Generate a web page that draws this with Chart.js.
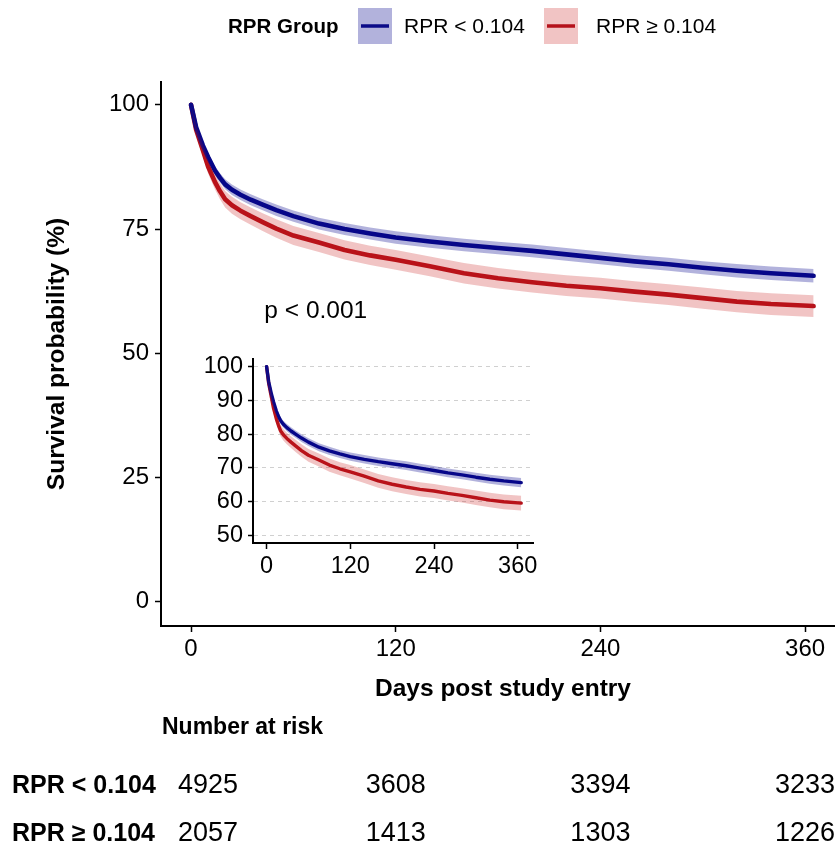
<!DOCTYPE html>
<html>
<head>
<meta charset="utf-8">
<script src="https://cdn.jsdelivr.net/npm/chart.js@4"></script>
<style>
  body { margin:0; width:835px; height:851px; overflow:hidden; position:relative; background:#fff; }
  #main { position:absolute; left:0; top:0; }
  #inset { position:absolute; left:190px; top:340px; }
</style>
</head>
<body>
<canvas id="main" width="845" height="851"></canvas>
<canvas id="inset" width="355" height="250"></canvas>
<script>
// values
const days = [0, 3, 7, 10, 14, 17, 20, 24, 29, 35, 42, 50, 60, 75, 90, 105, 120, 140, 160, 180, 200, 220, 240, 260, 280, 300, 320, 340, 365];
const lowSurv = [100, 95.5, 91.8, 89.5, 86.8, 85.3, 84.0, 82.9, 81.9, 80.9, 79.9, 78.8, 77.6, 76.1, 75.0, 74.1, 73.3, 72.5, 71.8, 71.2, 70.6, 69.9, 69.2, 68.5, 67.9, 67.2, 66.6, 66.1, 65.6];
const highSurv = [100, 95.0, 90.8, 87.6, 84.5, 82.6, 81.0, 79.8, 78.7, 77.6, 76.4, 75.1, 73.7, 72.3, 70.8, 69.7, 68.8, 67.5, 66.1, 65.1, 64.3, 63.6, 63.1, 62.4, 61.8, 61.1, 60.4, 59.9, 59.5];
const lowCi = [0, 0.5, 0.7, 0.8, 0.9, 0.95, 1.0, 1.05, 1.05, 1.1, 1.1, 1.15, 1.15, 1.2, 1.2, 1.2, 1.25, 1.25, 1.25, 1.25, 1.3, 1.3, 1.3, 1.3, 1.3, 1.3, 1.35, 1.35, 1.35];
const highCi = [0, 0.9, 1.2, 1.4, 1.5, 1.6, 1.65, 1.7, 1.72, 1.75, 1.8, 1.85, 1.9, 1.9, 1.95, 1.95, 2.0, 2.0, 2.05, 2.05, 2.05, 2.1, 2.1, 2.1, 2.1, 2.15, 2.15, 2.2, 2.2];

const groups = ["RPR < 0.104", "RPR \u2265 0.104"];
const xTicks = [0, 120, 240, 360];
const yTicks = [0, 25, 50, 75, 100];
const insetYTicks = [50, 60, 70, 80, 90, 100];
const riskTimes = [0, 120, 240, 360];
const riskLow = [4925, 3608, 3394, 3233];
const riskHigh = [2057, 1413, 1303, 1226];
const pText = "p < 0.001";
const pCoord = [43, 58.5];

const lineCols = ["#0a0a88", "#b5121b"];
const bandCols = ["rgba(0,0,139,0.3)", "rgba(200,20,20,0.25)"];
const FONT = "'Liberation Sans', Arial, sans-serif";
Chart.defaults.font.family = FONT;
Chart.defaults.color = "#000";

function pts(vals, ci, sign) {
    return days.map((d, i) => ({x: d, y: vals[i] + sign * ci[i]}));
}

function makeDatasets(lw) {
    const band = (vals, ci, col) => [
        {data: pts(vals, ci, 1), borderWidth: 0, backgroundColor: col, fill: "+1", pointRadius: 0},
        {data: pts(vals, ci, -1), borderWidth: 0, backgroundColor: col, fill: false, pointRadius: 0}
    ];
    const line = (vals, col) => ({data: pts(vals, lowCi, 0), borderColor: col, borderWidth: lw, fill: false, pointRadius: 0, borderJoinStyle: "round", borderCapStyle: "round"});
    return [
        ...band(lowSurv, lowCi, bandCols[0]),
        ...band(highSurv, highCi, bandCols[1]),
        line(lowSurv, lineCols[0]),
        line(highSurv, lineCols[1])
    ];
}

function axis(min, max, ticks, fit, size, pad, gridOpts) {
    return {
        type: "linear", min: min, max: max,
        afterBuildTicks: s => { s.ticks = ticks.map(v => ({value: v})); },
        afterFit: fit,
        ticks: {font: {size: size}, color: "#000", padding: pad},
        grid: Object.assign({drawOnChartArea: false, drawTicks: true, tickLength: 6, tickColor: "#000", tickWidth: 1.5}, gridOpts || {}),
        border: {display: true, color: "#000", width: 2}
    };
}

const textPlugin = {
    id: "kmText",
    afterDraw(chart) {
        const ctx = chart.ctx, x = chart.scales.x, y = chart.scales.y, a = chart.chartArea;
        ctx.save();
        ctx.fillStyle = "#000";
        ctx.textBaseline = "middle";

        // legend
        ctx.font = "bold 20.5px " + FONT;
        ctx.textAlign = "left";
        ctx.fillText("RPR Group", 228, 27);
        const keyX = [358, 544], labX = [404, 596];
        for (let i = 0; i < 2; i++) {
            ctx.fillStyle = bandCols[i];
            ctx.fillRect(keyX[i], 8, 34, 36);
            ctx.strokeStyle = lineCols[i];
            ctx.lineWidth = 3.5;
            ctx.beginPath(); ctx.moveTo(keyX[i] + 3, 26); ctx.lineTo(keyX[i] + 31, 26); ctx.stroke();
            ctx.fillStyle = "#000";
            ctx.font = "21px " + FONT;
            ctx.fillText(groups[i], labX[i], 27);
        }

        // p value
        ctx.font = "24.5px " + FONT;
        ctx.fillText(pText, x.getPixelForValue(pCoord[0]), y.getPixelForValue(pCoord[1]));

        // axis titles
        ctx.font = "bold 24.5px " + FONT;
        ctx.textAlign = "center";
        ctx.fillText("Days post study entry", (a.left + a.right) / 2, 689);
        ctx.save();
        ctx.translate(57, (a.top + a.bottom) / 2);
        ctx.rotate(-Math.PI / 2);
        ctx.fillText("Survival probability (%)", 0, 0);
        ctx.restore();

        // risk table
        ctx.textAlign = "left";
        ctx.font = "bold 23px " + FONT;
        ctx.fillText("Number at risk", a.left + 1, 728);
        const rowY = [786, 834], rows = [riskLow, riskHigh];
        for (let r = 0; r < 2; r++) {
            ctx.textAlign = "left";
            ctx.font = "bold 25px " + FONT;
            ctx.fillText(groups[r], 12, rowY[r]);
            ctx.font = "27px " + FONT;
            riskTimes.forEach((t, i) => {
                const px = x.getPixelForValue(t);
                if (i === 0) { ctx.textAlign = "left"; ctx.fillText(String(rows[r][i]), px - 13, rowY[r]); }
                else { ctx.textAlign = "center"; ctx.fillText(String(rows[r][i]), px, rowY[r]); }
            });
        }
        ctx.restore();
    }
};

new Chart(document.getElementById("main"), {
    type: "line",
    data: {datasets: makeDatasets(4.6)},
    options: {
        responsive: false, animation: false, devicePixelRatio: 1,
        layout: {padding: {top: 82, right: 0, left: 0, bottom: 0}},
        plugins: {legend: {display: false}, tooltip: {enabled: false}},
        scales: {
            x: axis(-17.6, 383.4, xTicks, s => { s.height = 225; }, 24, 3),
            y: axis(-4.9, 104.6, yTicks, s => { s.width = 161; }, 24, 6)
        }
    },
    plugins: [textPlugin]
});

new Chart(document.getElementById("inset"), {
    type: "line",
    data: {datasets: makeDatasets(3.4)},
    options: {
        responsive: false, animation: false, devicePixelRatio: 1,
        layout: {padding: {top: 15, right: 12, left: 0, bottom: 0}},
        plugins: {legend: {display: false}, tooltip: {enabled: false}},
        scales: {
            x: axis(-19.5, 381.9, xTicks, s => { s.height = 47; }, 23.5, 3),
            y: Object.assign(axis(47.68, 102.23, insetYTicks, s => { s.width = 63; }, 23.5, 5,
                {drawOnChartArea: true, color: "#d0d0d0", lineWidth: 1, tickLength: 5}),
                {border: {display: true, color: "#000", width: 2, dash: [4, 4]}})
        }
    }
});
</script>
</body>
</html>
